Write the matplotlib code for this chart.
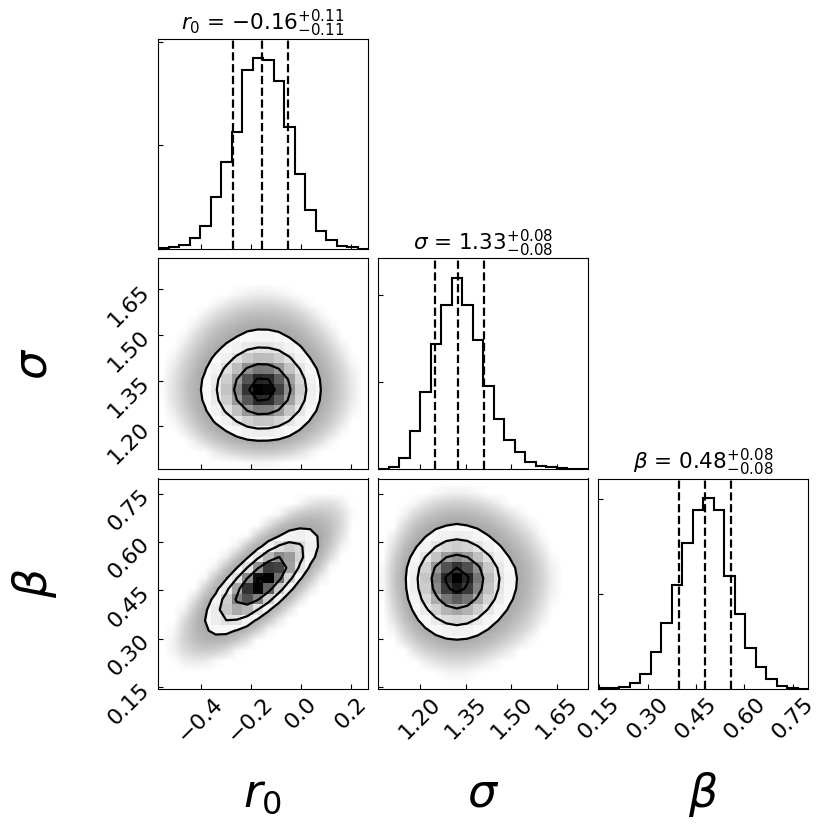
import matplotlib
matplotlib.use("Agg")
import matplotlib.pyplot as plt
import numpy as np
from matplotlib.colors import LinearSegmentedColormap


LABELS = [r"$r_0$", r"$\sigma$", r"$\beta$"]
TITLES = [
    r"$r_0$ = ${-0.16}_{-0.11}^{+0.11}$",
    r"$\sigma$ = ${1.33}_{-0.08}^{+0.08}$",
    r"$\beta$ = ${0.48}_{-0.08}^{+0.08}$",
]
RANGES = [(-0.570, 0.267), (1.062, 1.751), (0.146, 0.797)]
TICKS = [
    [-0.4, -0.2, 0.0, 0.2],
    [1.20, 1.35, 1.50, 1.65],
    [0.15, 0.30, 0.45, 0.60, 0.75],
]
N_BINS = 20

# 1D marginal counts (20 bins over each range)
R0_COUNTS = [5, 8, 19, 53, 112, 251, 420, 567, 864, 922,
             914, 810, 587, 361, 186, 89, 44, 13, 8, 2]
SIGMA_COUNTS = [0, 10, 60, 214, 442, 720, 944, 1100, 944, 739,
                473, 286, 164, 93, 39, 14, 6, 2, 0, 0]
BETA_COUNTS = [4, 5, 9, 30, 74, 193, 348, 544, 770, 940,
               1007, 942, 594, 392, 212, 115, 48, 12, 5, 0]
HIST_YTICKS = [0, 500, 1000]

# 16 / 50 / 84 percent quantiles
QUANTILES = [(-0.270, -0.157, -0.050), (1.249, 1.326, 1.411), (0.397, 0.478, 0.557)]

# joint density r0 (rows) vs beta (columns)
H_R0_BETA = [
    [0, 1, 2, 2, 1, 1, 0, 0, 0, 0, 0, 0, 0, 0, 0, 0, 0, 0, 0, 0],
    [0, 2, 4, 6, 6, 4, 1, 0, 0, 0, 0, 0, 0, 0, 0, 0, 0, 0, 0, 0],
    [0, 2, 7, 14, 20, 17, 10, 3, 1, 0, 0, 0, 0, 0, 0, 0, 0, 0, 0, 0],
    [0, 2, 7, 22, 43, 53, 41, 20, 6, 1, 0, 0, 0, 0, 0, 0, 0, 0, 0, 0],
    [0, 1, 6, 23, 65, 112, 123, 85, 37, 10, 2, 0, 0, 0, 0, 0, 0, 0, 0, 0],
    [0, 0, 3, 17, 65, 158, 241, 234, 143, 56, 14, 2, 0, 0, 0, 0, 0, 0, 0, 0],
    [0, 0, 1, 8, 42, 147, 316, 437, 379, 210, 72, 16, 2, 0, 0, 0, 0, 0, 0, 0],
    [0, 0, 0, 2, 19, 93, 280, 546, 666, 516, 250, 76, 14, 2, 0, 0, 0, 0, 0, 0],
    [0, 0, 0, 1, 6, 40, 168, 460, 790, 854, 583, 250, 67, 12, 1, 0, 0, 0, 0, 0],
    [0, 0, 0, 0, 1, 11, 65, 253, 621, 946, 920, 560, 214, 53, 8, 1, 0, 0, 0, 0],
    [0, 0, 0, 0, 0, 2, 18, 96, 331, 706, 965, 828, 445, 155, 33, 5, 0, 0, 0, 0],
    [0, 0, 0, 0, 0, 0, 3, 24, 115, 347, 675, 824, 630, 309, 94, 19, 2, 0, 0, 0],
    [0, 0, 0, 0, 0, 0, 0, 4, 28, 117, 319, 549, 591, 405, 174, 49, 8, 1, 0, 0],
    [0, 0, 0, 0, 0, 0, 0, 0, 4, 26, 102, 246, 372, 356, 215, 83, 20, 3, 0, 0],
    [0, 0, 0, 0, 0, 0, 0, 0, 0, 4, 21, 72, 156, 211, 181, 99, 34, 7, 1, 0],
    [0, 0, 0, 0, 0, 0, 0, 0, 0, 0, 3, 15, 44, 84, 101, 77, 37, 11, 2, 0],
    [0, 0, 0, 0, 0, 0, 0, 0, 0, 0, 0, 2, 8, 22, 38, 41, 28, 12, 3, 1],
    [0, 0, 0, 0, 0, 0, 0, 0, 0, 0, 0, 0, 1, 4, 10, 14, 14, 8, 3, 1],
    [0, 0, 0, 0, 0, 0, 0, 0, 0, 0, 0, 0, 0, 0, 2, 3, 5, 4, 2, 1],
    [0, 0, 0, 0, 0, 0, 0, 0, 0, 0, 0, 0, 0, 0, 0, 0, 1, 1, 1, 0],
]

CONTOUR_SIGMAS = [0.5, 1.0, 1.5, 2.0]
SMOOTH = 1.0
SMOOTH_R0_BETA = 0.6
CLOUD_CUT = 2.3
TICK_SIZE = 16
TITLE_SIZE = 15.5
LABEL_SIZE = 33

# pixel layout of the 3x3 grid (figure is 830 x 827)
FIG_W, FIG_H = 830, 827
COL_LEFT = [158, 378, 598]
ROW_TOP = [39, 258.5, 478.5]
PANEL = 210


def edges_of(k):
    return np.linspace(RANGES[k][0], RANGES[k][1], N_BINS + 1)


def smooth_2d(H, width):
    # gaussian smoothing in bin units, like corner's "smooth" option
    offs = np.arange(-4, 5)
    kern = np.exp(-0.5 * (offs / width) ** 2)
    kern /= kern.sum()
    out = np.apply_along_axis(lambda v: np.convolve(v, kern, mode="same"), 0, H)
    out = np.apply_along_axis(lambda v: np.convolve(v, kern, mode="same"), 1, out)
    return out


def style_axis(ax, xk, yk):
    ax.tick_params(direction="in", top=False, right=False, labelsize=TICK_SIZE)
    ax.set_xlim(RANGES[xk])
    ax.set_xticks(TICKS[xk])
    if yk is not None:
        ax.set_ylim(RANGES[yk])
        ax.set_yticks(TICKS[yk])


def contour_levels(H):
    flat = np.sort(H.ravel())[::-1]
    cum = np.cumsum(flat)
    cum /= cum[-1]
    levels = 1.0 - np.exp(-0.5 * np.array(CONTOUR_SIGMAS) ** 2)
    V = np.array([flat[cum <= lv][-1] if np.any(cum <= lv) else flat[0] for lv in levels])
    V.sort()
    return V


def draw_2d(ax, H, xk, yk):
    xe, ye = edges_of(xk), edges_of(yk)
    xc = 0.5 * (xe[1:] + xe[:-1])
    yc = 0.5 * (ye[1:] + ye[:-1])
    V = contour_levels(H)

    # soft grey cloud standing in for the scattered samples
    rel = np.clip(H / H.max(), 1e-9, None)
    lo = np.log10(V.min() / H.max())
    alpha = np.clip((np.log10(rel) + CLOUD_CUT) / (lo + CLOUD_CUT), 0, 1) * 0.5
    cloud = np.zeros(H.T.shape + (4,))
    cloud[..., :3] = 0.25
    cloud[..., 3] = alpha.T
    ax.imshow(cloud, extent=(xe[0], xe[-1], ye[0], ye[-1]), origin="lower",
              aspect="auto", interpolation="bilinear", zorder=1)

    ax.contourf(xc, yc, H.T, [V.min(), H.max() * 10], colors=["white"],
                antialiased=False, zorder=2)
    density_cmap = LinearSegmentedColormap.from_list("density", ["k", (1, 1, 1, 0)])
    ax.pcolormesh(xe, ye, H.max() - H.T, cmap=density_cmap, zorder=3)
    ax.contour(xc, yc, H.T, V, colors="k", linewidths=1.6, zorder=4)
    style_axis(ax, xk, yk)


def draw_1d(ax, k, counts):
    counts = np.asarray(counts, dtype=float)
    ax.stairs(counts, edges_of(k), color="k", linewidth=1.5)
    for q in QUANTILES[k]:
        ax.axvline(q, ls="--", color="k", linewidth=1.6)
    style_axis(ax, k, None)
    ax.set_ylim(0, 1.1 * counts.max())
    ax.set_yticks(HIST_YTICKS)
    ax.set_yticklabels([])
    ax.set_title(TITLES[k], fontsize=TITLE_SIZE, pad=6)


def main():
    fig = plt.figure(figsize=(FIG_W / 100, FIG_H / 100), dpi=100)
    axes = {}
    for r in range(3):
        for c in range(r + 1):
            left = COL_LEFT[c] / FIG_W
            bottom = 1 - (ROW_TOP[r] + PANEL) / FIG_H
            axes[r, c] = fig.add_axes([left, bottom, PANEL / FIG_W, PANEL / FIG_H])

    counts = [R0_COUNTS, SIGMA_COUNTS, BETA_COUNTS]
    for k in range(3):
        draw_1d(axes[k, k], k, counts[k])

    r0 = np.array(R0_COUNTS, dtype=float)
    sig = np.array(SIGMA_COUNTS, dtype=float)
    beta = np.array(BETA_COUNTS, dtype=float)
    # r0 / sigma and sigma / beta look uncorrelated: joint = smoothed product of marginals
    draw_2d(axes[1, 0], smooth_2d(np.outer(r0, sig), SMOOTH), 0, 1)
    draw_2d(axes[2, 0], smooth_2d(np.array(H_R0_BETA, dtype=float), SMOOTH_R0_BETA), 0, 2)
    draw_2d(axes[2, 1], smooth_2d(np.outer(sig, beta), SMOOTH), 1, 2)

    for (r, c), ax in axes.items():
        if r < 2:
            ax.set_xticklabels([])
        else:
            for lab in ax.get_xticklabels():
                lab.set_rotation(45)
            ax.set_xlabel(LABELS[c], fontsize=LABEL_SIZE, va="baseline")
            ax.xaxis.set_label_coords(0.5, -0.562)
        if c > 0 or r == 0:
            if r != c:
                ax.set_yticklabels([])
        else:
            for lab in ax.get_yticklabels():
                lab.set_rotation(45)
            ax.set_ylabel(LABELS[r], fontsize=LABEL_SIZE, va="center")
            ax.yaxis.set_label_coords(-0.59, 0.5)

    fig.savefig("out.png", dpi=100)


if __name__ == "__main__":
    main()
